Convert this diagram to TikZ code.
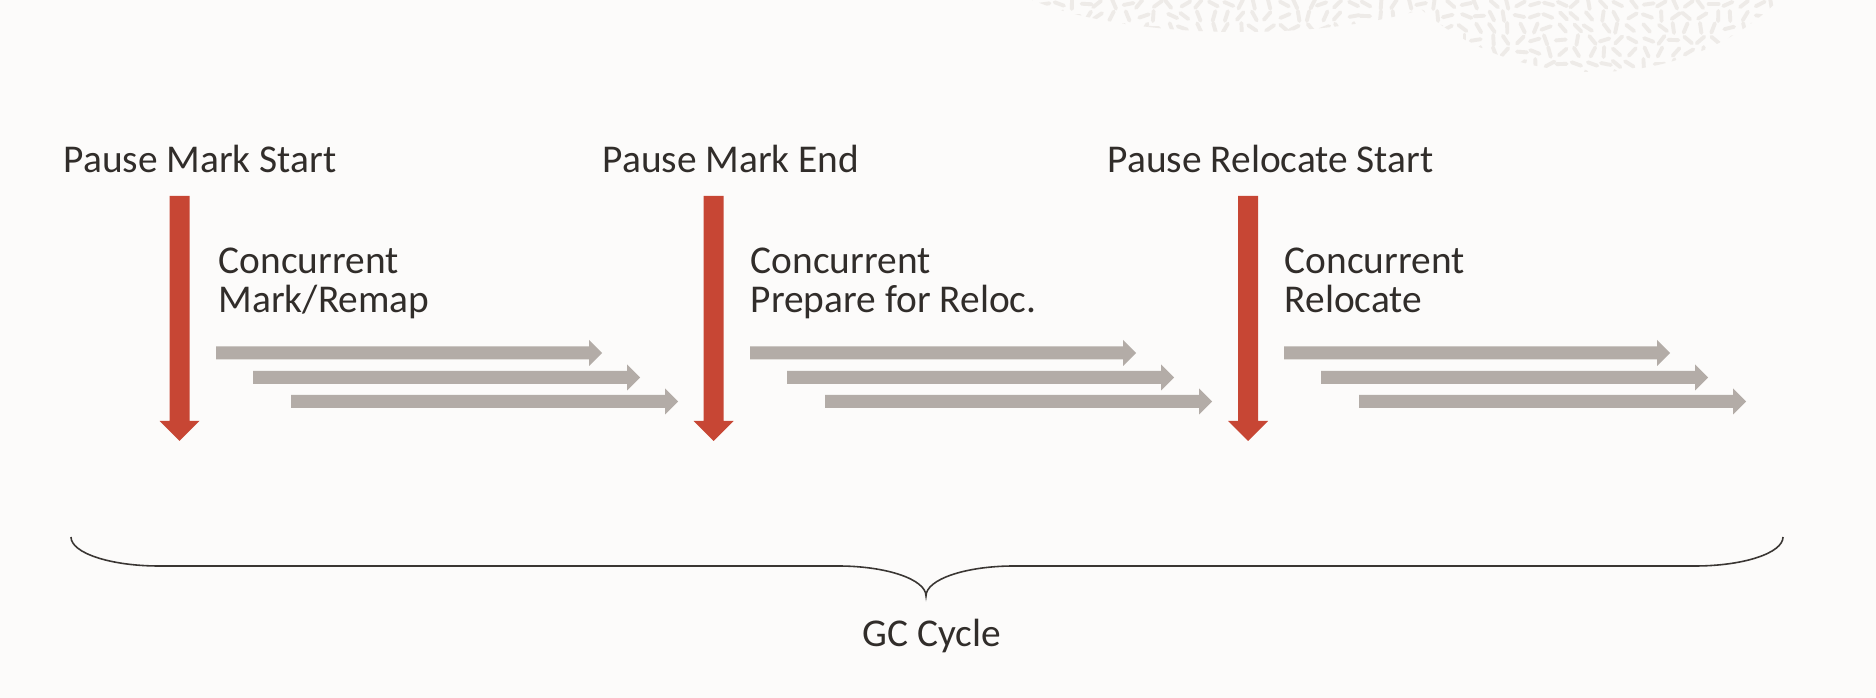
\documentclass[tikz,border=0pt]{standalone}
\usepackage{fontspec}
\setmainfont{Carlito}
\definecolor{bgcol}{HTML}{FCFBFA}
\definecolor{pausered}{HTML}{C74634}
\definecolor{workgrey}{HTML}{B3ACA7}
\definecolor{txtcol}{HTML}{312D2A}
\definecolor{bracecol}{HTML}{3A3633}
\definecolor{blobcol}{HTML}{EEEBE8}

% red pause arrow, #1 = x of the shaft
\newcommand{\pausearrow}[1]{%
  \fill[pausered] (#1-10,196) -- (#1+10,196) -- (#1+10,421) -- (#1+20,421)
    -- (#1,441) -- (#1-20,421) -- (#1-10,421) -- cycle;}
% grey work arrow, #1 = left end, #2 = tip, #3 = y of centre line
\newcommand{\workarrow}[3]{%
  \fill[workgrey] (#1,#3-6.5) -- (#2-13,#3-6.5) -- (#2-13,#3-13) -- (#2,#3)
    -- (#2-13,#3+13) -- (#2-13,#3+6.5) -- (#1,#3+6.5) -- cycle;}

\begin{document}
\begin{tikzpicture}[x=0.01cm,y=-0.01cm,
  lbl/.style={font=\fontsize{11.2}{11.1}\selectfont,text=txtcol,inner sep=0pt,anchor=base west,align=left},
  blob/.style={blobcol,line width=1.1pt,line cap=round}]
  \fill[bgcol] (0,0) rectangle (1876,698);
  \useasboundingbox (0,0) rectangle (1876,698);

  % faint pattern, top right
  \begin{scope}
    \clip (1240,-40) ellipse [x radius=250,y radius=72]
          (1595,-130) ellipse [x radius=240,y radius=202];
    \pgfmathsetseed{7}
    \foreach \i in {0,...,57}{
      \foreach \j in {0,...,6}{
        \pgfmathsetmacro\ang{random(0,180)}
        \pgfmathsetmacro\dx{rand*3}
        \draw[blob] (1030+\i*14+\dx,\j*12+4) ++(\ang:-5) -- ++(\ang:10);
      }
    }
  \end{scope}

  \node[lbl] (pms) at (63,173) {Pause Mark Start};
  \node[lbl] (pme) at (602,173) {Pause Mark End};
  \node[lbl] (prs) at (1107,173) {Pause Relocate Start};

  % base of these is the second line
  \node[lbl] (cmr) at (218,313) {Concurrent\\Mark/Remap};
  \node[lbl] (cpr) at (750,313) {Concurrent\\Prepare for Reloc.};
  \node[lbl] (crl) at (1284,313) {Concurrent\\Relocate};

  \pausearrow{179.5}
  \pausearrow{713.5}
  \pausearrow{1248}

  \workarrow{216}{602}{353}
  \workarrow{253}{640}{377.5}
  \workarrow{291}{678}{401.5}
  \workarrow{750}{1136}{353}
  \workarrow{787}{1174}{377.5}
  \workarrow{825}{1212}{401.5}
  \workarrow{1284}{1670}{353}
  \workarrow{1321}{1708}{377.5}
  \workarrow{1359}{1746}{401.5}

  % brace under the cycle
  \draw[bracecol,line width=0.45pt] (71,537) .. controls (71,553) and (110.4,566) .. (159,566)
    -- (838,566) .. controls (886.6,566) and (926,579.4) .. (926,596)
    .. controls (926,579.4) and (965.4,566) .. (1014,566)
    -- (1695,566) .. controls (1743.6,566) and (1783,553) .. (1783,537);
  \node[lbl,anchor=base] (gc) at (932,647) {GC Cycle};
\end{tikzpicture}
\end{document}
